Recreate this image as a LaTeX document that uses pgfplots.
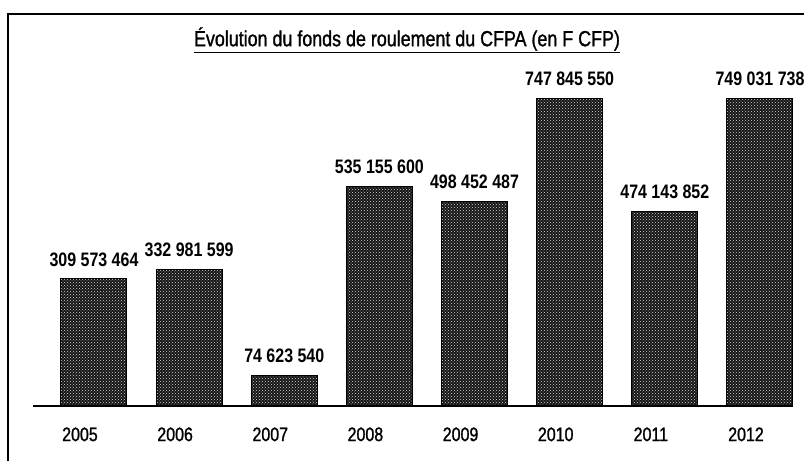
\documentclass[border=0pt]{standalone}
\usepackage{pgfplots}
\pgfplotsset{compat=1.18}
\usetikzlibrary{patterns}
\usepackage{fontspec}
\setmainfont{Liberation Sans}[FakeStretch=0.82]
\newfontfamily\medfont{Liberation Sans}[FakeStretch=0.82, FakeBold=1.2]
\begin{document}
\begin{tikzpicture}[x=1pt,y=1pt]
\useasboundingbox (0,0) rectangle (804,461);
\fill[white] (0,0) rectangle (804,461);
\draw[line width=1.4pt] (8,0) -- (8,447) -- (804,447);
\node[font=\medfont\fontsize{21.8}{24}\selectfont] at (407,421) {\underline{Évolution du fonds de roulement du CFPA (en F CFP)}};
\begin{axis}[
  at={(33pt,55pt)}, anchor=south west,
  scale only axis, width=760pt, height=328.8pt,
  xmin=-0.641, xmax=7.347, ymin=0, ymax=800000000,
  axis line style={draw=none},
  ytick=\empty,
  xtick={0,1,2,3,4,5,6,7},
  xticklabels={2005,2006,2007,2008,2009,2010,2011,2012},
  xtick style={draw=none},
  xticklabel style={font=\medfont\fontsize{19.5}{20}\selectfont, inner sep=0pt, anchor=north, yshift=-17pt, xshift=-14pt},
  ybar, bar width=66pt, bar shift=0pt,
  clip=false,
  nodes near coords, point meta=explicit symbolic,
  nodes near coords style={font=\bfseries\fontsize{19.5}{20}\selectfont, anchor=south, inner sep=0pt, yshift=12pt},
]
\addplot[fill=black!92, draw=black, line width=1pt, postaction={pattern=crosshatch dots, pattern color=white!85!black}] coordinates {
  (0,309573464) [309 573 464]
  (1,332981599) [332 981 599]
  (2,74623540) [74 623 540]
  (3,535155600) [535 155 600]
  (4,498452487) [498 452 487]
  (5,747845550) [747 845 550]
  (6,474143852) [474 143 852]
  (7,749031738) [749 031 738]
};
\draw[line width=1.6pt] (rel axis cs:0,0) -- (rel axis cs:1,0);
\end{axis}
\end{tikzpicture}
\end{document}
